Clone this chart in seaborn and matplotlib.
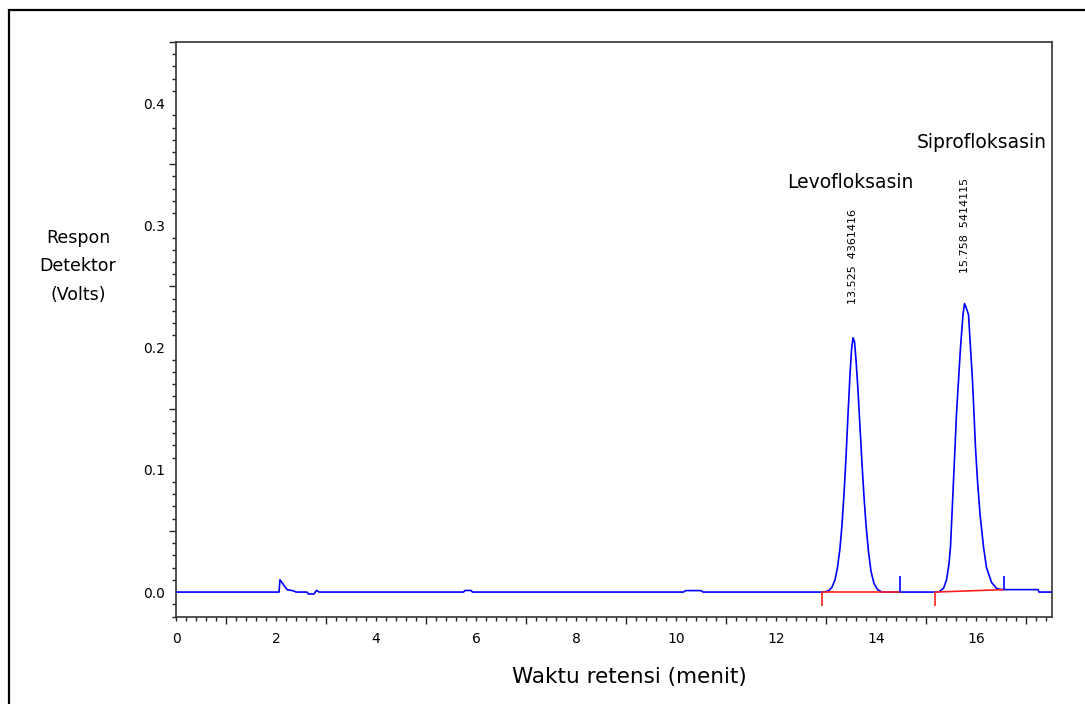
import numpy as np
import matplotlib
matplotlib.use("Agg")
import matplotlib.pyplot as plt
import matplotlib.patches as mpatches
import seaborn as sns

# retention time (min) and detector response (V)
base_start_t = [0.0, 2.06]
base_start_v = [0.0, 0.0]
inj_t = [2.08, 2.10, 2.15, 2.22, 2.35, 2.40, 2.62, 2.65, 2.76, 2.81, 2.86]
inj_v = [0.010, 0.009, 0.006, 0.002, 0.001, 0.0, 0.0, -0.0016, -0.0016, 0.0014, 0.0]
bump1_t = [5.75, 5.78, 5.90, 5.93]
bump1_v = [0.0, 0.0013, 0.0013, 0.0]
bump2_t = [10.15, 10.19, 10.50, 10.54]
bump2_v = [0.0, 0.0012, 0.0012, 0.0]
levo_t = [12.95, 13.05, 13.12, 13.18, 13.23, 13.28, 13.32, 13.36, 13.40, 13.44,
          13.48, 13.51, 13.54, 13.57, 13.60, 13.64, 13.68, 13.72, 13.76, 13.80,
          13.85, 13.90, 13.96, 14.03, 14.12]
levo_v = [0.000, 0.001, 0.004, 0.010, 0.020, 0.036, 0.055, 0.080, 0.110, 0.145,
          0.178, 0.198, 0.208, 0.205, 0.190, 0.165, 0.135, 0.105, 0.078, 0.055,
          0.033, 0.017, 0.007, 0.002, 0.000]
sipro_t = [15.25, 15.35, 15.41, 15.46, 15.49, 15.52, 15.55, 15.58, 15.61, 15.65,
           15.69, 15.74, 15.77, 15.80, 15.85, 15.89, 15.93, 15.96, 15.99, 16.03,
           16.08, 16.15, 16.21, 16.31, 16.41, 16.51]
sipro_v = [0.000, 0.003, 0.010, 0.023, 0.037, 0.064, 0.091, 0.118, 0.146, 0.173,
           0.200, 0.227, 0.236, 0.233, 0.227, 0.200, 0.173, 0.146, 0.118, 0.091,
           0.064, 0.037, 0.020, 0.008, 0.003, 0.002]
base_end_t = [17.24, 17.26, 17.52]
base_end_v = [0.002, 0.0, 0.0]

time = base_start_t + inj_t + bump1_t + bump2_t + levo_t + sipro_t + base_end_t
signal = base_start_v + inj_v + bump1_v + bump2_v + levo_v + sipro_v + base_end_v

# integration baselines and peak-end markers
levo_base_t = [12.91, 14.48]
levo_base_v = [0.0, 0.0]
sipro_base_t = [15.18, 16.56]
sipro_base_v = [0.0, 0.002]
start_marks = [12.91, 15.18]
end_marks = [14.48, 16.56]
end_marks_low = [0.0, 0.002]

peak_rt = [13.525, 15.758]
peak_area = [4361416, 5414115]
peak_names = ["Levofloksasin", "Siprofloksasin"]

sns.set_theme(style="white")
plt.rcParams["font.family"] = ["DejaVu Sans"]
plt.rcParams["text.color"] = "black"
plt.rcParams["xtick.color"] = "black"
plt.rcParams["ytick.color"] = "black"

fig = plt.figure(figsize=(10.85, 7.04), dpi=100)
ax = fig.add_axes([176 / 1085, 1 - 617 / 704, 876 / 1085, 575 / 704])

sns.lineplot(x=time, y=signal, sort=False, estimator=None, color="#0000ff",
             linewidth=1.2, ax=ax, zorder=3)
ax.plot(levo_base_t, levo_base_v, color="#ff2020", lw=1.2, zorder=4)
ax.plot(sipro_base_t, sipro_base_v, color="#ff2020", lw=1.2, zorder=4)
ax.vlines(start_marks, -0.0117, 0.0, color="#ff2020", lw=1.2, zorder=4)
ax.vlines(end_marks, end_marks_low, 0.013, color="#0000ff", lw=1.2, zorder=4)

# rotated retention time / area labels
label_x = [13.54, 15.78]
label_y = [0.2354, 0.2607]
for x, y, rt, area in zip(label_x, label_y, peak_rt, peak_area):
    ax.text(x, y, f"{rt:.3f}  {area}", rotation=90, ha="center", va="bottom",
            fontsize=8, color="black")

name_x = [13.48, 16.12]
name_y = [0.3348, 0.3674]
for x, y, n in zip(name_x, name_y, peak_names):
    ax.text(x, y, n, ha="center", va="center", fontsize=13.5, color="black")

ax.set_xlim(0, 17.52)
ax.set_ylim(-0.0204, 0.448)
ax.set_xlabel("")
ax.set_ylabel("")

xt = np.arange(0, 18, 1)
ax.set_xticks(xt, [str(int(v)) if v % 2 == 0 else "" for v in xt])
ax.set_xticks(np.round(np.arange(0, 17.6, 0.2), 2), minor=True)
yt = np.round(np.arange(0, 0.46, 0.05), 2)
ax.set_yticks(yt, [f"{v:.1f}" if round(v * 100) % 10 == 0 else "" for v in yt])
ax.set_yticks(np.round(np.arange(-0.02, 0.45, 0.01), 2), minor=True)

ax.tick_params(which="major", direction="out", length=5, width=1, color="#222222",
               labelsize=10, pad=3, bottom=True, left=True)
ax.tick_params(which="minor", direction="out", length=3, width=1, color="#222222",
               bottom=True, left=True)
ax.tick_params(axis="x", which="major", pad=6)

for tick, loc in zip(ax.xaxis.get_major_ticks(), xt):
    if loc % 2 == 0:
        tick.tick1line.set_markersize(3)
for tick, loc in zip(ax.yaxis.get_major_ticks(), yt):
    if round(loc * 100) % 10 == 0:
        tick.tick1line.set_markersize(0)

for s in ax.spines.values():
    s.set_visible(True)
    s.set_color("#333333")
    s.set_linewidth(1.2)

fig.text(78 / 1085, 1 - 266 / 704, "Respon\nDetektor\n(Volts)", ha="center",
         va="center", fontsize=12.5, linespacing=1.75)
fig.text(629.5 / 1085, 1 - 677 / 704, "Waktu retensi (menit)", ha="center",
         va="center", fontsize=15.5)

# outer frame of the page
fig.add_artist(mpatches.Rectangle((9 / 1085, -0.2), 1.2, 1.2 - 10 / 704,
                                  transform=fig.transFigure, fill=False,
                                  lw=1.6, edgecolor="black"))

fig.savefig("out.png", dpi=100)
